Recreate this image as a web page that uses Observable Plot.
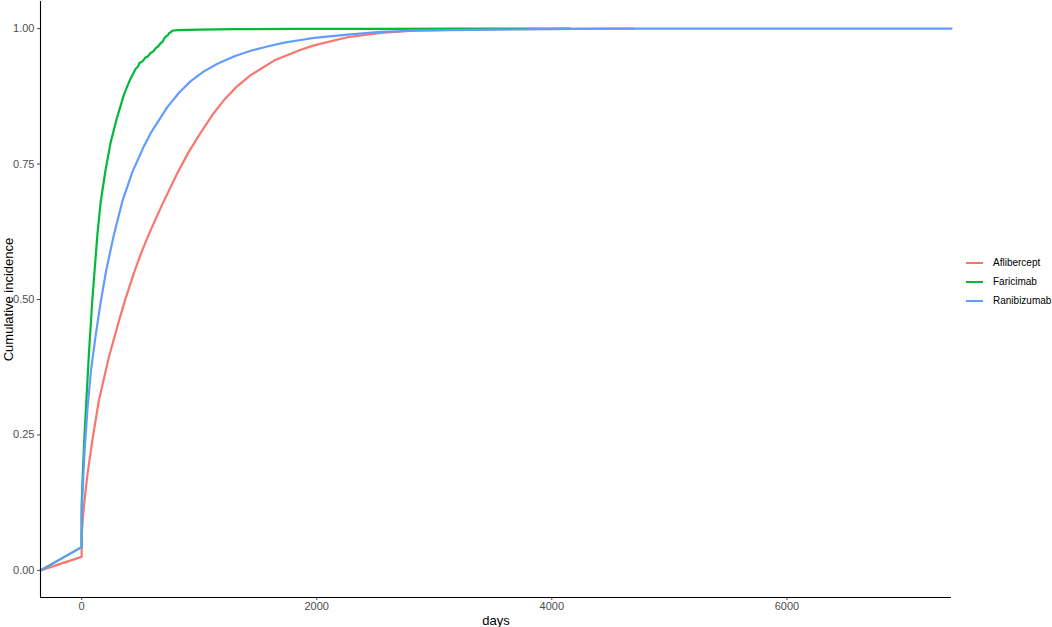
<!DOCTYPE html>
<html><head><meta charset="utf-8">
<script src="https://cdn.jsdelivr.net/npm/d3@7"></script>
<script src="https://cdn.jsdelivr.net/npm/@observablehq/plot@0.6"></script>
<style>
body{margin:0;background:#fff;font-family:"Liberation Sans",Arial,sans-serif;}
#wrap{position:relative;width:1052px;height:627px;}
#legend{position:absolute;left:966px;top:253px;font-size:10px;color:#000}
.item{display:flex;align-items:center;height:19px}
.key{width:17px;height:2px;margin-right:10px}
</style></head><body><div id="wrap"><div id="legend"></div></div>
<script>
const seriesNames = ["Aflibercept", "Faricimab", "Ranibizumab"];
const seriesColors = ["#F8766D", "#00BA38", "#619CFF"];
const xTicks = [0, 2000, 4000, 6000];
const yTicks = [0, 0.25, 0.5, 0.75, 1];

const aflDays = [-350, 0, 0, 10, 25, 48, 91, 147, 232, 318, 374, 445, 510, 587, 687, 814, 910, 1013, 1110, 1211, 1320, 1438, 1637, 1864, 1977, 2261, 2545, 2828, 3200, 3700, 4200, 4700];
const aflVals = [0, 0.025, 0.065, 0.095, 0.13, 0.175, 0.24, 0.314, 0.394, 0.461, 0.502, 0.549, 0.588, 0.628, 0.676, 0.733, 0.772, 0.808, 0.840, 0.868, 0.893, 0.914, 0.941, 0.961, 0.969, 0.984, 0.992, 0.996, 0.998, 0.999, 0.9995, 1.0];

const farDays = [-350, 0, 0, 10, 20, 34, 62, 91, 134, 162, 204, 247, 300, 360, 410, 460, 480, 490, 520, 540, 560, 587, 610, 630, 650, 672, 690, 700, 715, 735, 745, 757, 770, 814, 1000, 1300, 1800, 2500, 3200, 4150];
const farVals = [0, 0.043, 0.12, 0.18, 0.23, 0.29, 0.40, 0.50, 0.62, 0.68, 0.74, 0.79, 0.835, 0.878, 0.905, 0.926, 0.93, 0.936, 0.94, 0.946, 0.948, 0.955, 0.958, 0.964, 0.967, 0.973, 0.976, 0.981, 0.985, 0.988, 0.992, 0.993, 0.996, 0.997, 0.998, 0.999, 0.9993, 0.9996, 0.9998, 1.0];

const ranDays = [-350, 0, 0, 10, 25, 50, 80, 120, 162, 210, 275, 346, 431, 530, 587, 729, 830, 928, 1040, 1155, 1300, 1438, 1580, 1722, 1864, 1977, 2261, 2545, 2800, 3113, 3500, 3900, 4500, 7400];
const ranVals = [0, 0.043, 0.10, 0.155, 0.22, 0.30, 0.37, 0.435, 0.495, 0.555, 0.62, 0.681, 0.735, 0.783, 0.807, 0.855, 0.882, 0.903, 0.921, 0.935, 0.949, 0.959, 0.967, 0.974, 0.979, 0.983, 0.989, 0.994, 0.996, 0.997, 0.998, 0.999, 1.0, 1.0];

const rows = [];
[[aflDays, aflVals], [farDays, farVals], [ranDays, ranVals]].forEach(([ds, vs], i) => {
  ds.forEach((d, j) => rows.push({series: seriesNames[i], day: d, val: vs[j]}));
});

const font = "'Liberation Sans', Arial, sans-serif";
const chart = Plot.plot({
  width: 1052, height: 627,
  marginLeft: 40, marginRight: 101, marginTop: 1, marginBottom: 30,
  style: {fontFamily: font, fontSize: "11px", background: "#fff"},
  x: {domain: [-350, 7400]},
  y: {domain: [-0.05, 1.05]},
  color: {domain: seriesNames, range: seriesColors},
  marks: [
    Plot.axisY({ticks: yTicks, tickFormat: d3.format(".2f"), tickSize: 3, tickPadding: 3, label: null, color: "#4d4d4d", fontSize: 11}),
    Plot.axisX({ticks: xTicks, tickFormat: d => String(d), tickSize: 3, tickPadding: 2, label: null, color: "#4d4d4d", fontSize: 11}),
    Plot.line(rows, {x: "day", y: "val", z: "series", stroke: "series", strokeWidth: 2.2, strokeLinejoin: "round"}),
    Plot.ruleX([-350], {stroke: "#000", strokeWidth: 1.1}),
    Plot.ruleY([-0.05], {stroke: "#000", strokeWidth: 1.1}),
    Plot.text(["Cumulative incidence"], {frameAnchor: "left", textAnchor: "middle", rotate: -90, dx: -32, fontSize: 13, fill: "#000"}),
    Plot.text(["days"], {frameAnchor: "bottom", dy: 27, fontSize: 13, fill: "#000"})
  ]
});
document.getElementById("wrap").prepend(chart);

const leg = document.getElementById("legend");
seriesNames.forEach((n, i) => {
  const it = document.createElement("div"); it.className = "item";
  const k = document.createElement("div"); k.className = "key"; k.style.background = seriesColors[i];
  const t = document.createElement("span"); t.textContent = n;
  it.appendChild(k); it.appendChild(t); leg.appendChild(it);
});
</script></body></html>
